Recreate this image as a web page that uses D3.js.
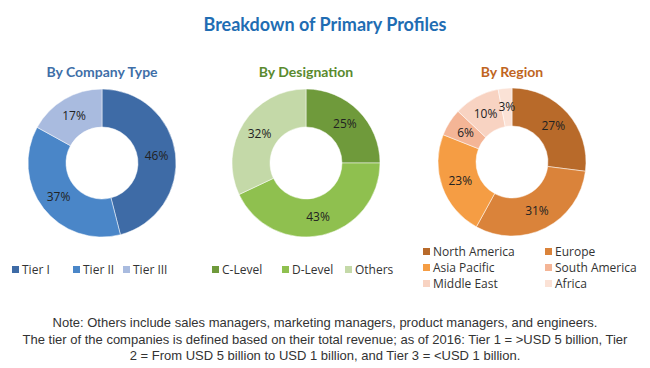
<!DOCTYPE html>
<html>
<head>
<meta charset="utf-8">
<script src="https://cdn.jsdelivr.net/npm/d3@7"></script>
<style>
  body { margin: 0; background: #fff; }
  svg text { font-family: 'Open Sans', 'Liberation Sans', sans-serif; }
  .note { font-family: 'Liberation Sans Narrow', 'Liberation Sans', sans-serif; font-size: 13px; fill: #333; }
</style>
</head>
<body>
<div id="chart"></div>
<script>
const chartSize = { width: 650, height: 368 };

const companyTypes = ['Tier I', 'Tier II', 'Tier III'];
const companyValues = [46, 37, 17];
const companyColors = ['#3e6ba6', '#4a86c8', '#a9bbdf'];

const designations = ['C-Level', 'D-Level', 'Others'];
const designationValues = [25, 43, 32];
const designationColors = ['#6f9a3b', '#8fc04f', '#c4d9a8'];

const regions = ['North America', 'Europe', 'Asia Pacific', 'South America', 'Middle East', 'Africa'];
const regionValues = [27, 31, 23, 6, 10, 3];
const regionColors = ['#b86a2a', '#da833a', '#f59d44', '#f4b596', '#f8d3c2', '#fbe2d6'];

const noteLines = [
  'Note: Others include sales managers, marketing managers, product managers, and engineers.',
  'The tier of the companies is defined based on their total revenue; as of 2016: Tier 1 = >USD 5 billion, Tier',
  '2 = From USD 5 billion to USD 1 billion, and Tier 3 = <USD 1 billion.'
];

const svg = d3.select('#chart').append('svg')
  .attr('width', chartSize.width)
  .attr('height', chartSize.height);

svg.append('text')
  .attr('x', 325).attr('y', 31)
  .attr('text-anchor', 'middle')
  .style('font-family', 'Lato, sans-serif')
  .style('font-weight', 'bold')
  .style('font-size', '18px')
  .attr('fill', '#1f6db3')
  .text('Breakdown of Primary Profiles');

const drawDonut = ({ cx, cy, title, titleColor, labels, values, colors }) => {
  const g = svg.append('g').attr('transform', `translate(${cx},${cy})`);
  const pie = d3.pie().sort(null).value(d => d);
  const arc = d3.arc().innerRadius(36).outerRadius(74);
  const labelArc = d3.arc().innerRadius(55).outerRadius(55);
  const arcs = pie(values);

  g.selectAll('path').data(arcs).enter().append('path')
    .attr('d', arc)
    .attr('fill', (d, i) => colors[i])
    .attr('stroke', '#fff')
    .attr('stroke-width', 0.5);

  g.selectAll('text.pct').data(arcs).enter().append('text')
    .attr('class', 'pct')
    .attr('transform', d => `translate(${labelArc.centroid(d)})`)
    .attr('text-anchor', 'middle')
    .attr('dy', '0.35em')
    .style('font-size', '12px')
    .attr('fill', '#222')
    .text(d => d.data + '%');

  svg.append('text')
    .attr('x', cx).attr('y', 77)
    .attr('text-anchor', 'middle')
    .style('font-family', 'Lato, sans-serif')
    .style('font-weight', 'bold')
    .style('font-size', '14px')
    .attr('fill', titleColor)
    .text(title);
};

drawDonut({ cx: 102, cy: 163, title: 'By Company Type', titleColor: '#3f6fa8',
  labels: companyTypes, values: companyValues, colors: companyColors });
drawDonut({ cx: 306, cy: 163, title: 'By Designation', titleColor: '#5a8a2e',
  labels: designations, values: designationValues, colors: designationColors });
drawDonut({ cx: 512, cy: 162, title: 'By Region', titleColor: '#c0651e',
  labels: regions, values: regionValues, colors: regionColors });

const legendItem = (x, y, label, color) => {
  svg.append('rect').attr('x', x).attr('y', y - 4).attr('width', 7).attr('height', 7).attr('fill', color);
  svg.append('text').attr('x', x + 10).attr('y', y).attr('dy', '0.35em')
    .style('font-size', '12px').attr('fill', '#333').text(label);
};

const companyLegendX = [12, 73, 123];
companyTypes.forEach((t, i) => legendItem(companyLegendX[i], 270, t, companyColors[i]));
const designationLegendX = [212, 282, 345];
designations.forEach((t, i) => legendItem(designationLegendX[i], 270, t, designationColors[i]));
regions.forEach((t, i) => legendItem(i % 2 ? 545 : 423, 252 + Math.floor(i / 2) * 16, t, regionColors[i]));

svg.selectAll('text.note').data(noteLines).enter().append('text')
  .attr('class', 'note')
  .attr('x', 325)
  .attr('y', (d, i) => 327 + i * 16.5)
  .attr('text-anchor', 'middle')
  .text(d => d);
</script>
</body>
</html>
